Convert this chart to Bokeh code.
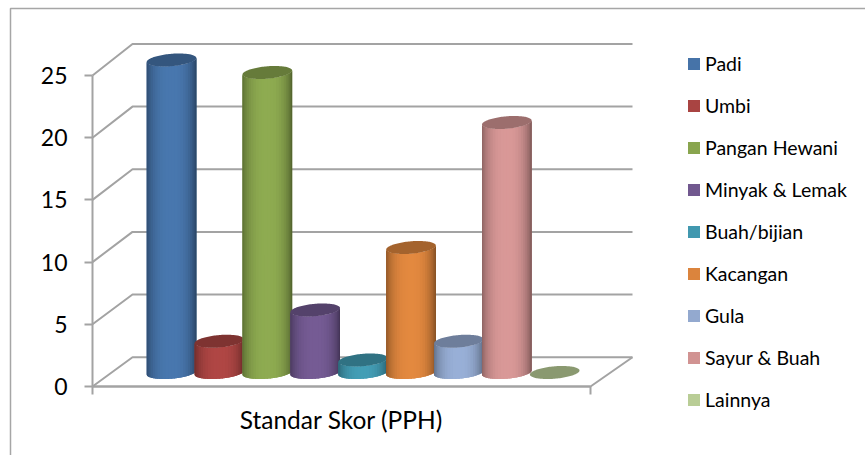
from bokeh.plotting import figure
from bokeh.embed import file_html
from bokeh.resources import INLINE
from bokeh.models import (ColumnDataSource, Range1d, LinearAxis, FixedTicker, Legend, LegendItem)
import numpy as np

# ---- data ----
categories = ["Padi", "Umbi", "Pangan Hewani", "Minyak & Lemak", "Buah/bijian",
              "Kacangan", "Gula", "Sayur & Buah", "Lainnya"]
values = [25, 2.5, 24, 5, 1, 10, 2.5, 20, 0]
colors = ["#4673A8", "#A94442", "#89A54E", "#71588F", "#4198AF",
          "#DB843D", "#93A9CF", "#D19392", "#B9CD96"]
y_ticks = [0, 5, 10, 15, 20, 25]
x_label = "Standar Skor (PPH)"

# ---- geometry (picture pixels) ----
W, H = 865, 455
OX, OY = 0, 0
BAR0, BAR_STEP = 171.0, 47.9
BASE_Y, UNIT = 372.0, 12.5
FRONT_X, BACK_X, RIGHT_FRONT_X, RIGHT_BACK_X = 92.0, 132.0, 590.0, 632.0
FRONT_Y0, FRONT_UNIT = 386.0, 12.44
BACK_Y0, BACK_UNIT = 356.7, 12.53
GREY = "#A3A3A3"
FONT = "Lato"

def X(px):
    return (px - BAR0) / BAR_STEP

def Y(py):
    return (BASE_Y - py) / UNIT

p = figure(width=W, height=H, output_backend="svg", toolbar_location=None,
           x_range=Range1d(X(OX), X(OX + W)), y_range=Range1d(Y(OY + H), Y(OY)),
           min_border=0, min_border_left=0, min_border_right=0, min_border_top=0,
           min_border_bottom=0, x_axis_type=None, y_axis_type=None,
           outline_line_color=None, background_fill_color="white")
p.grid.visible = False

# outer chart border (top and left only are visible in the crop)
p.line([X(10), X(10), X(OX + W)], [Y(OY + H), Y(8), Y(8)], line_color="#A6A6A6", line_width=1.5)

# back-wall gridlines and side-wall diagonals
for t in y_ticks:
    by = BACK_Y0 - BACK_UNIT * t
    fy = FRONT_Y0 - FRONT_UNIT * t
    p.line([X(FRONT_X), X(BACK_X), X(RIGHT_BACK_X)], [Y(fy), Y(by), Y(by)],
           line_color=GREY, line_width=2)
# floor
p.line([X(FRONT_X), X(RIGHT_FRONT_X), X(RIGHT_BACK_X)],
       [Y(FRONT_Y0), Y(FRONT_Y0), Y(BACK_Y0)], line_color=GREY, line_width=2)
# category axis end ticks
for tx in (FRONT_X, RIGHT_FRONT_X):
    p.line([X(tx), X(tx)], [Y(FRONT_Y0), Y(FRONT_Y0 + 8)], line_color=GREY, line_width=2)


def shade(hexcol, k):
    r, g, b = int(hexcol[1:3], 16), int(hexcol[3:5], 16), int(hexcol[5:7], 16)
    return "#%02x%02x%02x" % (min(int(r * k), 255), min(int(g * k), 255), min(int(b * k), 255))


A = 24.8 / BAR_STEP      # half width, category units
B = 6.2 / UNIT           # ellipse half height, value units
TILT = 0.31              # value units per category unit
N = 26

items = []
for i, (name, v, c) in enumerate(zip(categories, values, colors)):
    u = np.linspace(-1, 1, 121)
    dx = u * A
    curve = -B * np.sqrt(1 - u ** 2) + TILT * dx
    # flat body (also the legend glyph)
    body = p.patch(np.r_[i + dx, (i + dx)[::-1]], np.r_[v + curve, curve[::-1]],
                   fill_color=c, line_color=None)
    items.append(LegendItem(label=name, renderers=[body]))
    # shaded strips
    if v > 0:
        xs, ys, fills = [], [], []
        edges = np.sin(np.linspace(-np.pi / 2, np.pi / 2, N + 1))
        for a, b in zip(edges[:-1], edges[1:]):
            uu = np.linspace(a, min(b + 0.03, 1), 5)
            ddx = uu * A
            cc = -B * np.sqrt(1 - uu ** 2) + TILT * ddx
            xs.append(np.r_[i + ddx, (i + ddx)[::-1]])
            ys.append(np.r_[v + cc, cc[::-1]])
            m = (a + b) / 2
            k = (0.66 if m < 0 else 0.58) + (0.38 if m < 0 else 0.46) * (1 - abs(m) ** 2.6) ** 0.8
            fills.append(shade(c, k))
        p.patches("xs", "ys", fill_color="f", line_color=None,
                  source=ColumnDataSource(dict(xs=xs, ys=ys, f=fills)))
    # top cap
    t = np.linspace(0, 2 * np.pi, 121)
    ex = A * np.cos(t)
    ey = B * np.sin(t) + TILT * ex
    p.patch(i + ex, v + ey, fill_color=shade(c, 0.75), line_color=None)

# value axis on the front edge
p.extra_y_ranges["front"] = Range1d((FRONT_Y0 - (OY + H)) / FRONT_UNIT, (FRONT_Y0 - OY) / FRONT_UNIT)
yax = LinearAxis(y_range_name="front", fixed_location=X(FRONT_X), ticker=FixedTicker(ticks=y_ticks),
                 bounds=(0, 25), axis_line_color=GREY, axis_line_width=2,
                 major_tick_line_color=GREY, major_tick_line_width=2,
                 major_tick_out=8, major_tick_in=0, minor_tick_out=0, minor_tick_in=0,
                 major_label_standoff=17, major_label_text_font=FONT,
                 major_label_text_font_size="23px", major_label_text_color="#000000")
p.add_layout(yax, "left")

# category axis on the front edge of the floor (end ticks are drawn above)
xax = LinearAxis(fixed_location=Y(FRONT_Y0), ticker=FixedTicker(ticks=[]),
                 bounds=(X(FRONT_X), X(RIGHT_FRONT_X)), axis_line_color=GREY, axis_line_width=2,
                 major_tick_line_color=None, minor_tick_line_color=None,
                 major_label_standoff=0,
                 axis_label=x_label, axis_label_text_font=FONT, axis_label_text_font_style="normal",
                 axis_label_text_font_size="24.5px", axis_label_text_color="#000000",
                 axis_label_standoff=18)
p.add_layout(xax, "below")

# legend
legend = Legend(items=items, location=(686, 44), orientation="vertical",
                background_fill_alpha=0, border_line_color=None,
                padding=0, margin=0, spacing=19, glyph_width=15, glyph_height=15,
                label_standoff=4, label_height=22, label_width=150,
                label_text_font=FONT, label_text_font_size="19.5px", label_text_color="#000000")
p.add_layout(legend)

open("out.html", "w").write(file_html(p, INLINE))
